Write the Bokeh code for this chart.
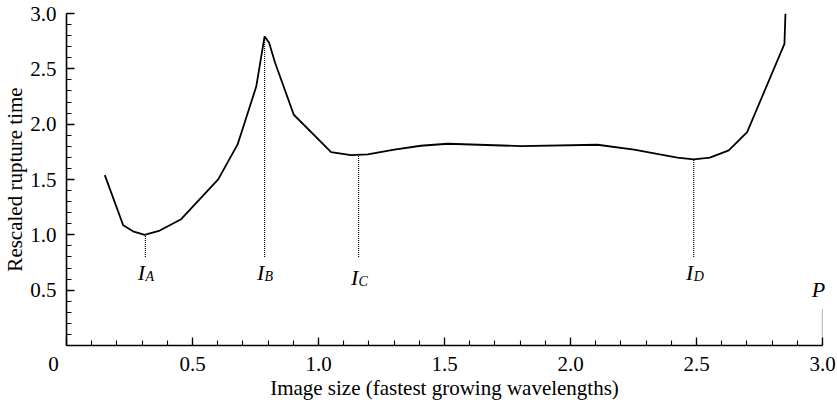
from bokeh.plotting import figure
from bokeh.models import FixedTicker, Range1d, ColumnDataSource
from bokeh.core.properties import value
from bokeh.embed import file_html
from bokeh.resources import INLINE

# ---- data ----
image_size = [0.152, 0.225, 0.264, 0.31, 0.37, 0.453, 0.602, 0.679, 0.753, 0.786,
              0.804, 0.827, 0.902, 1.05, 1.129, 1.195, 1.301, 1.406, 1.512, 1.803,
              2.107, 2.252, 2.424, 2.489, 2.553, 2.628, 2.701, 2.849, 2.853]
rupture_time = [1.54, 1.087, 1.032, 1.0, 1.039, 1.138, 1.501, 1.817, 2.34, 2.793,
                2.735, 2.559, 2.085, 1.748, 1.72, 1.727, 1.769, 1.805, 1.823, 1.802,
                1.814, 1.769, 1.697, 1.682, 1.697, 1.763, 1.928, 2.725, 3.0]

marker_names = ["I", "I", "I", "I", "P"]
marker_subs = ["A", "B", "C", "D", ""]
marker_x = [0.313, 0.786, 1.159, 2.489, 3.0]
marker_top = [1.0, 2.793, 1.72, 1.682, 0.33]
marker_bottom = [0.8, 0.8, 0.8, 0.8, 0.0]
label_y = [0.66, 0.66, 0.615, 0.66, 0.51]

x_major = [0, 0.5, 1.0, 1.5, 2.0, 2.5, 3.0]
x_labels = {0: "", 0.5: "0.5", 1: "1.0", 1.5: "1.5", 2: "2.0", 2.5: "2.5", 3: "3.0"}
y_major = [0.5, 1.0, 1.5, 2.0, 2.5, 3.0]
y_labels = {0.5: "0.5", 1: "1.0", 1.5: "1.5", 2: "2.0", 2.5: "2.5", 3: "3.0"}
minor = [round(i * 0.1, 1) for i in range(0, 31)]
origin_label = ["0"]
origin_x = [0.0]
origin_y = [0.0]

FONT = "Liberation Serif"

p = figure(width=837, height=406, output_backend="svg", toolbar_location=None,
           x_range=Range1d(0, 3.0), y_range=Range1d(0, 3.0),
           min_border_left=65, min_border_right=15, min_border_top=13,
           min_border_bottom=61)
p.outline_line_color = None
p.xgrid.visible = False
p.ygrid.visible = False

p.line(image_size, rupture_time, line_color="black", line_width=1.8)

p.segment(x0=marker_x, y0=marker_bottom, x1=marker_x, y1=marker_top,
          line_color="black", line_width=1.2, line_dash="1 1")

main_src = ColumnDataSource(dict(x=marker_x, y=label_y, t=marker_names))
sub_src = ColumnDataSource(dict(x=marker_x, y=label_y, t=marker_subs))
p.text(x="x", y="y", text="t", source=main_src, text_font=value(FONT),
       text_font_style="italic", text_font_size="22px", text_align="center",
       text_baseline="alphabetic", x_offset=-4, text_color="black",
       level="overlay")
p.text(x="x", y="y", text="t", source=sub_src, text_font=value(FONT),
       text_font_style="italic", text_font_size="14px", text_align="left",
       text_baseline="alphabetic", x_offset=0, y_offset=4, text_color="black",
       level="overlay")

# origin "0" label shared by both axes
p.text(x=origin_x, y=origin_y, text=origin_label, text_font=value(FONT),
       text_font_size="21px", text_align="center", text_baseline="middle",
       x_offset=-13, y_offset=18, text_color="black", level="overlay")

for ax in (p.xaxis[0], p.yaxis[0]):
    ax.axis_line_width = 1.6
    ax.axis_line_color = "black"
    ax.major_tick_in = 8
    ax.major_tick_out = 0
    ax.minor_tick_in = 5
    ax.minor_tick_out = 0
    ax.major_tick_line_width = 1.3
    ax.minor_tick_line_width = 1.1
    ax.major_tick_line_color = "black"
    ax.minor_tick_line_color = "black"
    ax.major_label_text_font = FONT
    ax.major_label_text_font_size = "21px"
    ax.major_label_text_color = "black"
    ax.axis_label_text_font = FONT
    ax.axis_label_text_font_size = "21px"
    ax.axis_label_text_font_style = "normal"
    ax.axis_label_text_color = "black"

p.xaxis[0].ticker = FixedTicker(ticks=x_major, minor_ticks=minor)
p.xaxis[0].major_label_overrides = x_labels
p.xaxis[0].axis_label = "Image size (fastest growing wavelengths)"
p.xaxis[0].major_label_standoff = 11
p.xaxis[0].axis_label_standoff = 2

p.yaxis[0].ticker = FixedTicker(ticks=y_major, minor_ticks=minor)
p.yaxis[0].major_label_overrides = y_labels
p.yaxis[0].axis_label = "Rescaled rupture time"
p.yaxis[0].major_label_standoff = 10
p.yaxis[0].axis_label_standoff = 0

open("out.html", "w").write(file_html(p, INLINE))
